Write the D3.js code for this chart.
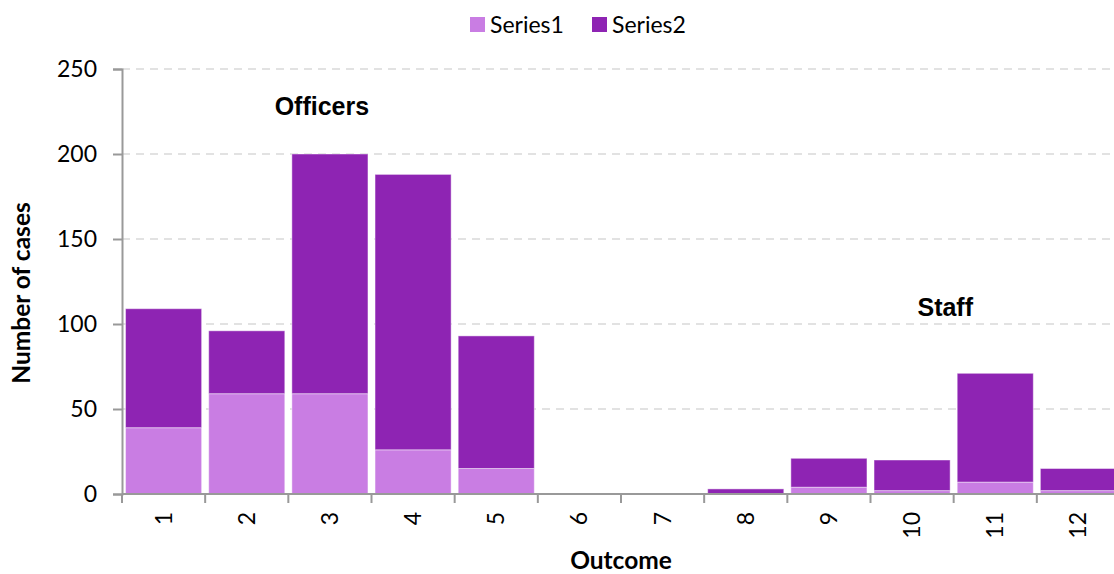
<!DOCTYPE html>
<html>
<head>
<meta charset="utf-8">
<script src="https://cdn.jsdelivr.net/npm/d3@7"></script>
<style>
  html, body { margin: 0; padding: 0; background: #fff; }
  svg { display: block; }
</style>
</head>
<body>
<svg id="chart" width="1114" height="574"></svg>
<script>
// Outcome categories and case counts per series
const categories = ["1", "2", "3", "4", "5", "6", "7", "8", "9", "10", "11", "12"];
const series1 = [39, 59, 59, 26, 15, 0, 0, 0, 4, 2, 7, 2];
const series2 = [70, 37, 141, 162, 78, 0, 0, 3, 17, 18, 64, 13];
const seriesNames = ["Series1", "Series2"];
const seriesColors = ["#C97DE3", "#8E24B3"];
const yTicks = [0, 50, 100, 150, 200, 250];
const groupLabels = [
  { text: "Officers", cat: "3", value: 223, dx: -8 },
  { text: "Staff", cat: "11", value: 105, dx: -50 }
];

const svg = d3.select("#chart");
const plotLeft = 122, plotRight = 1120, plotTop = 69, plotBottom = 494;

const x = d3.scaleBand()
  .domain(categories)
  .range([plotLeft, plotRight])
  .paddingInner(0.085)
  .paddingOuter(0.0425);

const y = d3.scaleLinear().domain([0, 250]).range([plotBottom, plotTop]);

const tickFont = "Lato, 'Open Sans', sans-serif";

// Dashed horizontal gridlines
svg.append("g")
  .selectAll("line")
  .data(yTicks.filter(d => d > 0))
  .join("line")
  .attr("x1", plotLeft)
  .attr("x2", 1114)
  .attr("y1", d => y(d))
  .attr("y2", d => y(d))
  .attr("stroke", "#d9d9d9")
  .attr("stroke-width", 1.5)
  .attr("stroke-dasharray", "8,6");

// Stacked bars
const rows = categories.map((c, i) => ({ cat: c, s1: series1[i], s2: series2[i] }));
const stack = d3.stack().keys(["s1", "s2"])(rows);

svg.append("g")
  .selectAll("g")
  .data(stack)
  .join("g")
  .attr("fill", (d, i) => seriesColors[i])
  .selectAll("rect")
  .data(d => d.filter(p => p[1] - p[0] > 0))
  .join("rect")
  .attr("x", d => x(d.data.cat))
  .attr("width", x.bandwidth())
  .attr("y", d => y(d[1]))
  .attr("height", d => y(d[0]) - y(d[1]))
  .attr("stroke", "rgba(255,255,255,0.45)")
  .attr("stroke-width", 1);

// Y axis
const yAxis = d3.axisLeft(y).tickValues(yTicks).tickSize(9).tickPadding(16);
const gy = svg.append("g")
  .attr("transform", `translate(${plotLeft},0)`)
  .call(yAxis);
gy.select(".domain").attr("stroke", "#999").attr("stroke-width", 2);
gy.selectAll(".tick line").attr("stroke", "#999").attr("stroke-width", 2);
gy.selectAll(".tick text")
  .attr("font-family", tickFont)
  .attr("font-size", 23)
  .attr("fill", "#000");

// X axis: line plus boundary ticks between categories
const gx = svg.append("g");
gx.append("line")
  .attr("x1", plotLeft).attr("x2", 1114)
  .attr("y1", plotBottom).attr("y2", plotBottom)
  .attr("stroke", "#999").attr("stroke-width", 2);
const step = x.step();
const boundaries = d3.range(categories.length + 1).map(i => plotLeft + i * step);
gx.selectAll("line.tick")
  .data(boundaries)
  .join("line")
  .attr("class", "tick")
  .attr("x1", d => d).attr("x2", d => d)
  .attr("y1", plotBottom).attr("y2", plotBottom + 9)
  .attr("stroke", "#999").attr("stroke-width", 2);
gx.selectAll("text")
  .data(categories)
  .join("text")
  .attr("transform", d => `translate(${x(d) + x.bandwidth() / 2 + 8},${plotBottom + 18}) rotate(-90)`)
  .attr("text-anchor", "end")
  .attr("font-family", tickFont)
  .attr("font-size", 23)
  .attr("fill", "#000")
  .text(d => d);

// Axis titles
svg.append("text")
  .attr("x", 621).attr("y", 569)
  .attr("text-anchor", "middle")
  .attr("font-family", tickFont)
  .attr("font-weight", "bold")
  .attr("font-size", 24.5)
  .text("Outcome");

svg.append("text")
  .attr("transform", "translate(30,293) rotate(-90)")
  .attr("text-anchor", "middle")
  .attr("font-family", tickFont)
  .attr("font-weight", "bold")
  .attr("font-size", 24.5)
  .text("Number of cases");

// Group annotations
svg.append("g")
  .selectAll("text")
  .data(groupLabels)
  .join("text")
  .attr("x", d => x(d.cat) + x.bandwidth() / 2 + d.dx)
  .attr("y", d => y(d.value))
  .attr("text-anchor", "middle")
  .attr("font-family", "'Liberation Sans', Arial, sans-serif")
  .attr("font-weight", "bold")
  .attr("font-size", 25)
  .attr("fill", "#000")
  .text(d => d.text);

// Legend
const legend = svg.append("g");
const legendX = [470, 592];
seriesNames.forEach((name, i) => {
  legend.append("rect")
    .attr("x", legendX[i]).attr("y", 17)
    .attr("width", 15).attr("height", 15)
    .attr("fill", seriesColors[i]);
  legend.append("text")
    .attr("x", legendX[i] + 20).attr("y", 33)
    .attr("font-family", tickFont)
    .attr("font-size", 23)
    .attr("fill", "#000")
    .text(name);
});
</script>
</body>
</html>
